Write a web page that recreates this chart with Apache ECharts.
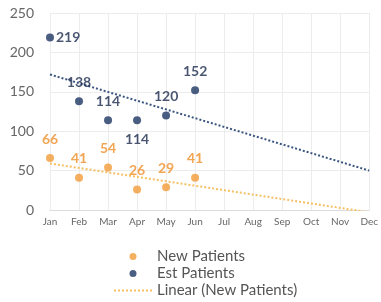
<!DOCTYPE html>
<html><head><meta charset="utf-8">
<script src="https://cdn.jsdelivr.net/npm/echarts@6/dist/echarts.min.js"></script>
<style>html,body{margin:0;padding:0;background:#fff}#c{width:381px;height:302px}</style>
</head><body><div id="c"></div>
<script>
const months = ['Jan','Feb','Mar','Apr','May','Jun','Jul','Aug','Sep','Oct','Nov','Dec'];
const newPatients = [66, 41, 54, 26, 29, 41];
const estPatients = [219, 138, 114, 114, 120, 152];
const newTrend = [['Jan', 59], ['Dec', -3]];
const estTrend = [['Jan', 172], ['Dec', 50]];
const yTicks = [0, 50, 100, 150, 200, 250];

const ORANGE = '#F29B38', NAVY = '#1D3663';
const estLabelPos = ['right','top','top','bottom','top','top'];

const chart = echarts.init(document.getElementById('c'));
chart.setOption({
  animation: false,
  textStyle: { fontFamily: 'Lato' },
  grid: { left: 50, right: 9, top: 13, bottom: 92 },
  xAxis: {
    type: 'category', data: months, boundaryGap: false,
    axisLine: { show: true, lineStyle: { color: '#ddd' } },
    axisTick: { show: false },
    axisLabel: { color: '#666', fontSize: 10, margin: 7 },
    splitLine: { show: true, lineStyle: { color: '#ececec' } }
  },
  yAxis: {
    type: 'value', min: yTicks[0], max: yTicks[yTicks.length - 1], interval: 50,
    axisLine: { show: false }, axisTick: { show: false },
    axisLabel: { color: '#666', fontSize: 14, margin: 16 },
    splitLine: { lineStyle: { color: '#ececec' } }
  },
  legend: {
    orient: 'vertical', left: 113, top: 249, padding: 0, itemWidth: 38, itemHeight: 7, itemGap: 2,
    textStyle: { color: '#555', fontSize: 15, fontFamily: 'Lato' },
    data: ['New Patients', 'Est Patients',
      { name: 'Linear (New Patients)', itemStyle: { opacity: 0 } }]
  },
  series: [
    {
      name: 'Linear (New Patients)', type: 'line', data: newTrend, symbol: 'none',
      lineStyle: { color: '#F5C064', width: 2, type: 'dotted' }, itemStyle: { color: '#F5C064' }, z: 1
    },
    {
      name: 'Linear (Est Patients)', type: 'line', data: estTrend, symbol: 'none',
      lineStyle: { color: '#3A5680', width: 2, type: 'dotted' }, itemStyle: { color: '#3A5680' }, z: 1
    },
    {
      name: 'New Patients', type: 'scatter', symbolSize: 8,
      itemStyle: { color: ORANGE },
      data: newPatients.map(v => ({ value: v })),
      label: { show: true, position: 'top', distance: 8, color: '#EF8E28', fontSize: 14, fontWeight: 'bold' }
    },
    {
      name: 'Est Patients', type: 'scatter', symbolSize: 8,
      itemStyle: { color: NAVY },
      data: estPatients.map((v, i) => ({ value: v, label: { position: estLabelPos[i], distance: estLabelPos[i] === 'right' ? 2 : 8 } })),
      label: { show: true, color: '#1B2A4E', fontSize: 14, fontWeight: 'bold' }
    }
  ]
});
</script></body></html>
